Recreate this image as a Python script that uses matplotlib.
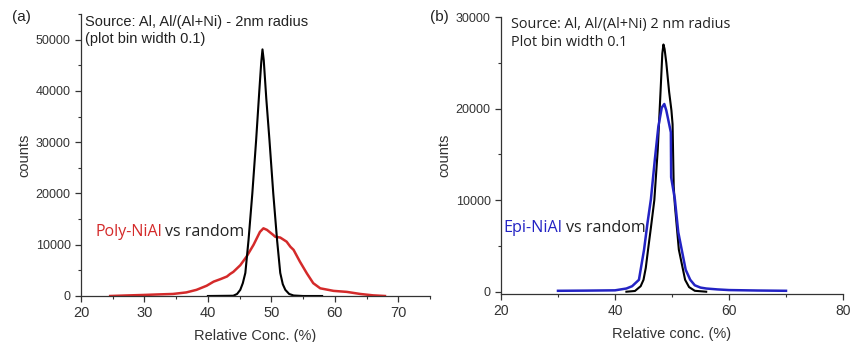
import matplotlib
matplotlib.use("Agg")
import matplotlib.pyplot as plt
from matplotlib.ticker import MultipleLocator

plt.rcParams['font.family'] = ['Liberation Sans', 'DejaVu Sans']

# (a) Poly-NiAl vs random, counts per 0.1 bin
poly_x = [24.6, 27, 29.8, 32, 34.5, 36.6, 38.2, 39.8, 40.9, 42, 43, 43.5, 44, 45.1, 46.1,
          47.2, 48.2, 48.75, 49.3, 50.3, 50.6, 51.4, 52.4, 53.0, 53.5, 54.5, 55.6, 56.6,
          57.7, 59.8, 61.9, 64, 66, 67.9]
poly_y = [0, 100, 200, 300, 400, 700, 1200, 2000, 2800, 3300, 3800, 4300, 4700, 6000, 7700,
          10000, 12500, 13200, 12900, 11900, 11560, 11400, 10600, 9600, 9000, 6700, 4400, 2500,
          1500, 1000, 800, 400, 130, 0]
rand_a_x = [40, 44, 44.6, 45.1, 45.5, 45.9, 46.4, 47, 47.6, 48.1, 48.4, 48.6, 48.8, 49.2,
            49.7, 50.3, 50.9, 51.4, 51.8, 52.2, 52.8, 53.5, 55, 58]
rand_a_y = [0, 50, 400, 1200, 2500, 4500, 10900, 20000, 30400, 40000, 45500, 48100, 46000,
            38500, 30400, 20000, 10900, 4500, 2300, 1200, 400, 100, 0, 0]

# (b) Epi-NiAl vs random
epi_x = [30, 35, 40, 42, 43, 44.2, 45.1, 45.7, 46.3, 47, 47.6, 48.2, 48.65, 49, 49.5, 49.8,
         49.85, 50.5, 51.1, 51.7, 52.4, 53.2, 54, 55, 56, 58, 60, 65, 70]
epi_y = [100, 120, 150, 350, 600, 1300, 4600, 7500, 10100, 14500, 18000, 20100, 20500, 19800,
         18300, 17400, 12500, 10100, 6500, 4600, 2400, 1300, 700, 450, 350, 250, 180, 130, 100]
rand_b_x = [42, 43.5, 44.5, 45, 45.4, 45.8, 46.3, 46.9, 47.5, 48, 48.3, 48.5, 48.7, 49, 49.5,
            49.9, 50.1, 50.3, 50.5, 51.2, 52.3, 53, 54, 56]
rand_b_y = [0, 80, 600, 1300, 2600, 4600, 7000, 10000, 15500, 22000, 26000, 27000, 26500,
            25000, 21800, 19800, 18300, 11500, 9500, 4600, 1300, 500, 100, 0]

tick_c = '#333333'
txt_c = '#222222'
red = '#d42a2a'
blue = '#2323c4'
label_fonts = ['Open Sans', 'DejaVu Sans']

fig = plt.figure(figsize=(8.52, 3.42), dpi=100)

def style(ax, xsize):
    for s in ['top', 'right']:
        ax.spines[s].set_visible(False)
    for s in ['left', 'bottom']:
        ax.spines[s].set_color(tick_c)
        ax.spines[s].set_linewidth(0.9)
    ax.tick_params(which='major', direction='out', length=4, width=0.9, colors=tick_c)
    ax.tick_params(which='minor', direction='out', length=2.5, width=0.8, colors=tick_c)
    ax.tick_params(axis='y', labelsize=9)
    ax.tick_params(axis='x', labelsize=xsize)

# ---- (a)
ax1 = fig.add_axes([81/852, 46/342, 349/852, 282/342])
ax1.plot(poly_x, poly_y, color=red, lw=1.8)
ax1.plot(rand_a_x, rand_a_y, color='black', lw=1.5)
ax1.set_xlim(20, 75)
ax1.set_ylim(0, 55000)
ax1.set_xticks([20, 30, 40, 50, 60, 70])
ax1.set_yticks([0, 10000, 20000, 30000, 40000, 50000])
ax1.xaxis.set_minor_locator(MultipleLocator(5))
ax1.yaxis.set_minor_locator(MultipleLocator(5000))
style(ax1, 10.5)
ax1.set_xlabel('Relative Conc. (%)', fontsize=10.5, color=tick_c, labelpad=6)
ax1.set_ylabel('counts', fontsize=10.5, color=tick_c, labelpad=3)
ax1.text(0.012, 0.995, 'Source: Al, Al/(Al+Ni) - 2nm radius\n(plot bin width 0.1)',
         transform=ax1.transAxes, ha='left', va='top', fontsize=10.5, color=txt_c,
         linespacing=1.2)
ax1.text(0.042, 0.227, 'Poly-NiAl', transform=ax1.transAxes, fontsize=11.5, color=red,
         family=label_fonts, va='center')
ax1.text(0.242, 0.227, 'vs random', transform=ax1.transAxes, fontsize=11.5, color=txt_c,
         family=label_fonts, va='center')
fig.text(12/852, 1 - 17/342, '(a)', fontsize=11, color=txt_c, va='center')

# ---- (b)
ax2 = fig.add_axes([501/852, 48/342, 342/852, 277/342])
ax2.plot(epi_x, epi_y, color=blue, lw=1.8, zorder=3)
ax2.plot(rand_b_x, rand_b_y, color='black', lw=1.5, zorder=2)
ax2.set_xlim(20, 80)
ax2.set_ylim(-250, 30000)
ax2.set_xticks([20, 40, 60, 80])
ax2.set_yticks([0, 10000, 20000, 30000])
ax2.xaxis.set_minor_locator(MultipleLocator(10))
ax2.yaxis.set_minor_locator(MultipleLocator(5000))
style(ax2, 10)
ax2.set_xlabel('Relative conc. (%)', fontsize=10.5, color=tick_c, labelpad=6)
ax2.set_ylabel('counts', fontsize=10.5, color=tick_c, labelpad=3)
ax2.text(0.03, 1.0, 'Source: Al, Al/(Al+Ni) 2 nm radius\nPlot bin width 0.1',
         transform=ax2.transAxes, ha='left', va='top', fontsize=10.4, color=txt_c,
         family=label_fonts, linespacing=1.25)
ax2.text(0.008, 0.238, 'Epi-NiAl', transform=ax2.transAxes, fontsize=11.6, color=blue,
         family=label_fonts, va='center')
ax2.text(0.19, 0.238, 'vs random', transform=ax2.transAxes, fontsize=11.6, color=txt_c,
         family=label_fonts, va='center')
fig.text(430/852, 1 - 17/342, '(b)', fontsize=11, color=txt_c, va='center')

fig.savefig('out.png', dpi=100)
